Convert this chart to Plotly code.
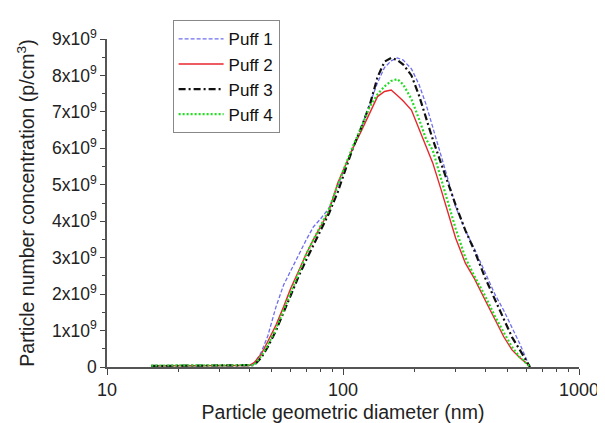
import plotly.graph_objects as go

diameter_nm = [15.4, 20, 25, 30, 35, 40, 42, 45, 48, 52, 56, 60, 65, 70, 75, 80, 87, 95, 102, 110,
               120, 130, 140, 150, 160, 170, 180, 195, 210, 225, 240, 260, 280, 300, 330, 360,
               400, 440, 480, 520, 560, 600, 620]

# values in units of 1e9 particles/cm3
puff1 = [0.03, 0.03, 0.03, 0.03, 0.03, 0.04, 0.08, 0.40, 0.85, 1.65, 2.25, 2.65, 3.10, 3.50, 3.85, 4.05,
         4.35, 4.95, 5.45, 6.00, 6.60, 7.20, 7.80, 8.22, 8.40, 8.48, 8.42, 8.18, 7.75, 7.20, 6.60,
         5.80, 5.10, 4.40, 3.75, 3.25, 2.60, 2.00, 1.55, 1.10, 0.65, 0.20, 0.00]
puff2 = [0.03, 0.03, 0.03, 0.03, 0.03, 0.04, 0.12, 0.35, 0.70, 1.15, 1.65, 2.15, 2.65, 3.12, 3.50, 3.85,
         4.26, 5.05, 5.50, 6.00, 6.50, 7.00, 7.42, 7.56, 7.60, 7.45, 7.30, 7.05, 6.55, 6.05, 5.60,
         4.88, 4.18, 3.54, 2.85, 2.43, 1.84, 1.31, 0.83, 0.47, 0.26, 0.10, 0.00]
puff3 = [0.03, 0.03, 0.03, 0.03, 0.03, 0.03, 0.05, 0.25, 0.55, 1.00, 1.50, 2.00, 2.50, 2.95, 3.35, 3.70,
         4.20, 4.80, 5.40, 6.00, 6.60, 7.20, 7.95, 8.38, 8.48, 8.42, 8.30, 8.00, 7.45, 6.80, 6.25,
         5.60, 5.00, 4.45, 3.75, 3.20, 2.45, 1.85, 1.30, 0.82, 0.48, 0.15, 0.00]
puff4 = [0.04, 0.04, 0.04, 0.04, 0.04, 0.04, 0.05, 0.30, 0.60, 1.05, 1.55, 2.05, 2.60, 3.10, 3.50, 3.85,
         4.30, 5.00, 5.50, 6.05, 6.60, 7.15, 7.48, 7.70, 7.85, 7.90, 7.75, 7.35, 6.80, 6.25, 5.95,
         5.20, 4.50, 3.80, 3.00, 2.50, 1.95, 1.40, 0.95, 0.55, 0.28, 0.10, 0.00]

series_names = ["Puff 1", "Puff 2", "Puff 3", "Puff 4"]

y_tick_vals = [0, 1, 2, 3, 4, 5, 6, 7, 8, 9]
y_tick_text = ["0"] + [f"{v}x10<sup>9</sup>" for v in y_tick_vals[1:]]
x_tick_vals = [10, 100, 1000]
x_tick_text = ["10", "100", "1000"]

styles = [
    dict(color="#6f6ff0", width=1.3, dash="4px,2px"),
    dict(color="#e8262c", width=1.4, dash="solid"),
    dict(color="#111111", width=2.2, dash="7px,3px,2px,3px"),
    dict(color="#22dd22", width=2.2, dash="2px,2px"),
]

fig = go.Figure()
for name, vals, st in zip(series_names, [puff1, puff2, puff3, puff4], styles):
    fig.add_trace(go.Scatter(
        x=diameter_nm, y=[v * 1e9 for v in vals], mode="lines", name=name,
        line=st,
    ))

font_family = "Liberation Sans, Arial, sans-serif"

# The page body adds an 8px offset, so the figure is sized 8px smaller to fit the window.
fig.update_layout(
    width=597, height=415,
    margin=dict(l=99, r=26, t=13, b=56),
    paper_bgcolor="white", plot_bgcolor="white",
    font=dict(family=font_family, size=18, color="#222222"),
    showlegend=True,
    legend=dict(
        x=0.139, y=1.057, xanchor="left", yanchor="top",
        bordercolor="#888888", borderwidth=1, bgcolor="white",
        font=dict(size=17, color="#111111"), itemwidth=45,
        tracegroupgap=0,
    ),
)

minor_x = [v * m for m in (10, 100) for v in range(2, 10)]
fig.update_xaxes(
    type="log", range=[1, 3], automargin=False, ticklabeloverflow="allow",
    tickmode="array", tickvals=x_tick_vals, ticktext=x_tick_text,
    ticks="outside", ticklen=6, tickwidth=1, tickcolor="#444444",
    showline=True, linecolor="#555555", linewidth=1.5,
    showgrid=False, zeroline=False, mirror=False,
    minor=dict(tickvals=minor_x, ticks="outside", ticklen=3, tickcolor="#444444", showgrid=False),
    title=dict(text="Particle geometric diameter (nm)", font=dict(size=19.5), standoff=10),
    tickfont=dict(size=18),
)
fig.update_yaxes(
    range=[0, 9e9], automargin=False, ticklabeloverflow="allow",
    tickmode="array", tickvals=[v * 1e9 for v in y_tick_vals], ticktext=y_tick_text,
    ticks="outside", ticklen=5, tickwidth=1, tickcolor="#444444",
    showline=True, linecolor="#555555", linewidth=1.5,
    showgrid=False, zeroline=False, mirror=False,
    minor=dict(tickvals=[(v + 0.5) * 1e9 for v in range(9)], ticks="outside", ticklen=3,
               tickcolor="#444444", showgrid=False),
    title=dict(text="Particle number concentration (p/cm<sup>3</sup>)", font=dict(size=19.5), standoff=12),
    tickfont=dict(size=17.5),
)

fig.write_html("out.html")
